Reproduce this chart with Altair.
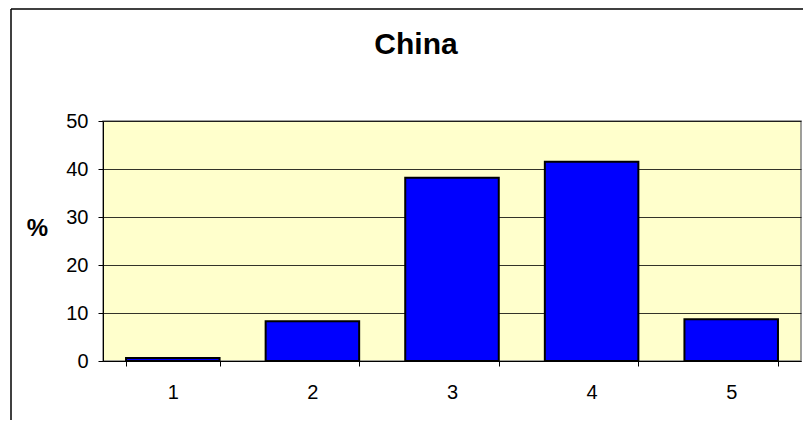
import altair as alt
import pandas as pd

categories = ["1", "2", "3", "4", "5"]
values = [0.6, 8.3, 38.2, 41.5, 8.7]
title_text = "China"
y_title = "%"

df = pd.DataFrame({"cat": categories, "val": values})

FONT = "Liberation Sans"

base = alt.Chart(df)

bars = base.mark_bar(color="#0000FF", stroke="#000000", strokeWidth=2).encode(
    x=alt.X("cat:N", sort=categories,
            scale=alt.Scale(paddingInner=0.33, paddingOuter=0.165),
            axis=alt.Axis(title=None, labelAngle=0, tickBand="extent", tickSize=5,
                          labelPadding=16, labelFontSize=20, labelFont=FONT,
                          labelColor="#000000", domainColor="#000000", tickColor="#000000",
                          grid=False)),
    y=alt.Y("val:Q", scale=alt.Scale(domain=[0, 50], nice=False),
            axis=alt.Axis(values=[0, 10, 20, 30, 40, 50], title=y_title, titleAngle=0,
                          titleX=-66, titleY=107, titleAlign="center", titleBaseline="middle",
                          titleFont=FONT, titleFontSize=24, titleFontWeight="bold",
                          titleColor="#000000",
                          labelFontSize=20, labelFont=FONT, labelColor="#000000",
                          labelPadding=10, tickSize=5, tickColor="#000000",
                          domainColor="#000000", gridColor="#000000", gridOpacity=0.8)),
)

title = alt.Chart(pd.DataFrame({"t": [title_text]})).mark_text(
    font=FONT, fontSize=30, fontWeight="bold", color="#000000",
    align="center", baseline="alphabetic"
).encode(text="t:N", x=alt.value(313), y=alt.value(-67))

frame_top = alt.Chart(pd.DataFrame({"a": [0]})).mark_rule(color="#000000", strokeWidth=1.5).encode(
    x=alt.value(-92), x2=alt.value(720), y=alt.value(-112))
frame_left = alt.Chart(pd.DataFrame({"a": [0]})).mark_rule(color="#000000", strokeWidth=1.5).encode(
    x=alt.value(-92), y=alt.value(-112), y2=alt.value(320))

chart = alt.layer(frame_top, frame_left, bars, title).properties(
    width=698, height=240,
    autosize=alt.AutoSizeParams(type="none"),
    padding={"left": 95, "top": 113, "right": 2, "bottom": 59},
    background="#FFFFFF",
).configure_view(fill="#FFFFCC", stroke="#808080", strokeWidth=1.5)

chart.save("out.html", embed_options={"renderer": "svg", "actions": False})
